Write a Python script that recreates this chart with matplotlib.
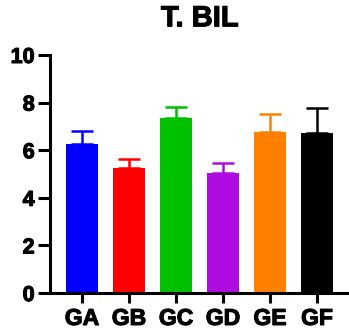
import matplotlib
matplotlib.use("Agg")
import matplotlib.pyplot as plt
import matplotlib.patheffects as pe
import numpy as np

# valeurs
groupes = ["GA", "GB", "GC", "GD", "GE", "GF"]
moyennes = [6.25, 5.24, 7.34, 5.03, 6.75, 6.71]
erreurs = [0.54, 0.39, 0.49, 0.42, 0.76, 1.08]
couleurs = ["#0000FF", "#FF0000", "#00C000", "#AE0CE0", "#FF8000", "#000000"]

plt.rcParams['font.family'] = ['Liberation Sans', 'DejaVu Sans']
gras = [pe.withStroke(linewidth=0.8, foreground='black')]

fig = plt.figure(figsize=(3.49, 3.33), dpi=100)
ax = fig.add_axes([0.143, 0.12, 0.854, 0.715])

x = np.arange(len(groupes))
ax.bar(x, moyennes, width=0.68, color=couleurs)
for i in range(len(groupes)):
    ax.errorbar(x[i], moyennes[i], yerr=[[0], [erreurs[i]]], fmt='none',
                ecolor=couleurs[i], elinewidth=1.8, capsize=8, capthick=1.8)

ax.set_xlim(-0.68, 5.66)
ax.set_ylim(0, 10)
ax.set_yticks([0, 2, 4, 6, 8, 10])
ax.set_xticks(x)
ax.set_xticklabels(groupes, fontsize=16.5, fontweight='bold')
for lab in ax.get_yticklabels() + ax.get_xticklabels():
    lab.set_fontweight('bold')
    lab.set_path_effects(gras)
for lab in ax.get_yticklabels():
    lab.set_fontsize(15.5)

ax.spines['top'].set_visible(False)
ax.spines['right'].set_visible(False)
ax.spines['left'].set_linewidth(2.2)
ax.spines['bottom'].set_linewidth(2.2)
ax.tick_params(axis='y', length=9, width=2.2, pad=2)
ax.tick_params(axis='x', length=7, width=2.2, pad=3)

fig.text(0.573, 0.945, "T. BIL", ha='center', va='center', fontsize=21,
         fontweight='bold', path_effects=gras)

fig.savefig("out.png", dpi=100)
